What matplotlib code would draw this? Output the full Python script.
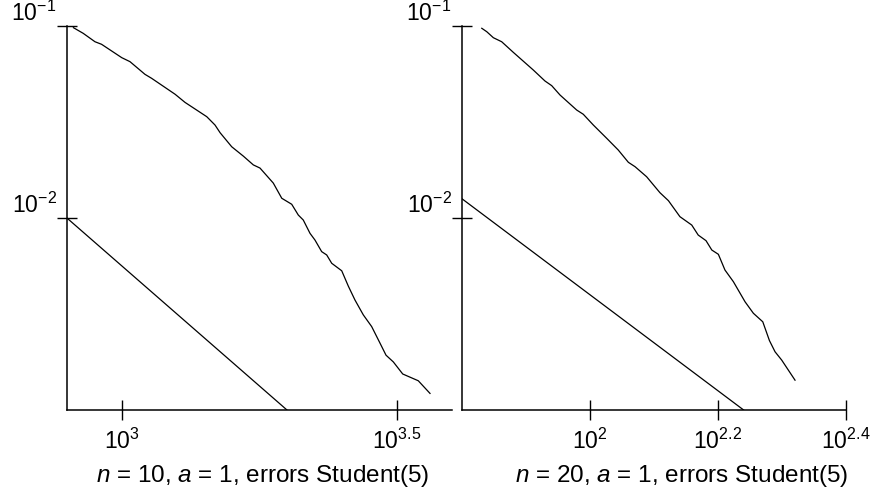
import numpy as np
import matplotlib
matplotlib.use("Agg")
import matplotlib.pyplot as plt

plt.rcParams['font.family'] = ['Liberation Sans', 'DejaVu Sans']
plt.rcParams['mathtext.fontset'] = 'custom'
plt.rcParams['mathtext.rm'] = 'Liberation Sans'
plt.rcParams['mathtext.it'] = 'Liberation Sans:italic'
plt.rcParams['mathtext.bf'] = 'Liberation Sans:bold'

# n = 10 panel: simulated error curve and reference slope line
n10_x = [816, 850, 893, 918, 999, 1034, 1101, 1132, 1249, 1302, 1426, 1476, 1508,
         1583, 1662, 1733, 1782, 1884, 1952, 2035, 2092, 2136, 2197, 2243, 2307,
         2356, 2406, 2509, 2579, 2652, 2746, 2844, 2945, 3020, 3114, 3239, 3457, 3631]
n10_y = [0.0980, 0.0916, 0.0828, 0.0803, 0.0684, 0.0652, 0.0560, 0.0534, 0.0441,
         0.0400, 0.0337, 0.0305, 0.0278, 0.0235, 0.0210, 0.0189, 0.0182, 0.0152,
         0.01267, 0.01179, 0.01036, 0.00976, 0.00832, 0.00768, 0.00668, 0.00642,
         0.00581, 0.00531, 0.00442, 0.00374, 0.00313, 0.00272, 0.00223, 0.00193,
         0.00178, 0.00154, 0.00142, 0.00122]
n10_ref_x = [794, 1995]
n10_ref_y = [0.01, 0.001]

# n = 20 panel
n20_x = [67.75, 68.97, 70.63, 72.78, 75.89, 81.54, 85.05, 87.13, 89.78, 95.33,
         97.61, 101.2, 106.2, 110.7, 114.8, 117.6, 122.6, 128.6, 132.6, 138.2,
         144.2, 147.6, 151.8, 155.0, 158.7, 162.5, 167.5, 174.7, 180.0, 186.2,
         190.7, 194.6, 199.3, 209.1]
n20_y = [0.0973, 0.0934, 0.0869, 0.0828, 0.0729, 0.0590, 0.0517, 0.0489, 0.0437,
         0.0365, 0.0347, 0.0305, 0.0260, 0.0226, 0.0195, 0.0185, 0.0164, 0.01355,
         0.01231, 0.01016, 0.00919, 0.00815, 0.00762, 0.00681, 0.00647, 0.00536,
         0.00466, 0.00366, 0.00319, 0.00288, 0.00230, 0.00201, 0.00182, 0.00143]
n20_ref_x = [63.1, 173.8]
n20_ref_y = [0.01259, 0.001]

y_ticks = [1e-2, 1e-1]
y_labels = [r'$10^{-2}$', r'$10^{-1}$']
n10_xticks = [1000, 10 ** 3.5]
n10_xlabels = [r'$10^{3}$', r'$10^{3.5}$']
n20_xticks = [100, 10 ** 2.2, 10 ** 2.4]
n20_xlabels = [r'$10^{2}$', r'$10^{2.2}$', r'$10^{2.4}$']

fig = plt.figure(figsize=(8.78, 4.97), dpi=100)
ax1 = fig.add_axes([67 / 878, 87 / 497, 385 / 878, 384 / 497])
ax2 = fig.add_axes([462 / 878, 87 / 497, 384 / 878, 384 / 497])

panels = [
    (ax1, n10_x, n10_y, n10_ref_x, n10_ref_y, (10 ** 2.9, 10 ** 3.6),
     n10_xticks, n10_xlabels, r'$n$ = 10, $a$ = 1, errors Student(5)', 0.509),
    (ax2, n20_x, n20_y, n20_ref_x, n20_ref_y, (10 ** 1.8, 10 ** 2.4),
     n20_xticks, n20_xlabels, r'$n$ = 20, $a$ = 1, errors Student(5)', 0.573),
]

for ax, cx, cy, rx, ry, xlim, xt, xtl, title, lx in panels:
    ax.plot(cx, cy, color='black', lw=0.9, clip_on=False)
    ax.plot(rx, ry, color='black', lw=0.9)
    ax.set_xscale('log')
    ax.set_yscale('log')
    ax.set_xlim(*xlim)
    ax.set_ylim(1e-3, 1e-1)
    ax.minorticks_off()
    ax.set_xticks(xt)
    ax.set_xticklabels(xtl)
    ax.set_yticks(y_ticks)
    ax.set_yticklabels(y_labels)
    for lab in ax.get_yticklabels():
        lab.set_verticalalignment('bottom')
    ax.spines['top'].set_visible(False)
    ax.spines['right'].set_visible(False)
    for s in ['left', 'bottom']:
        ax.spines[s].set_linewidth(1.1)
    ax.tick_params(axis='both', direction='inout', length=14, width=1.0,
                   labelsize=16.5)
    ax.tick_params(axis='x', pad=6.5)
    ax.tick_params(axis='y', pad=0.5)
    ax.set_xlabel(title, fontsize=17.5)
    ax.xaxis.label.set_verticalalignment('center')
    ax.xaxis.set_label_coords(lx, -0.172)

fig.savefig('out.png', dpi=100)
